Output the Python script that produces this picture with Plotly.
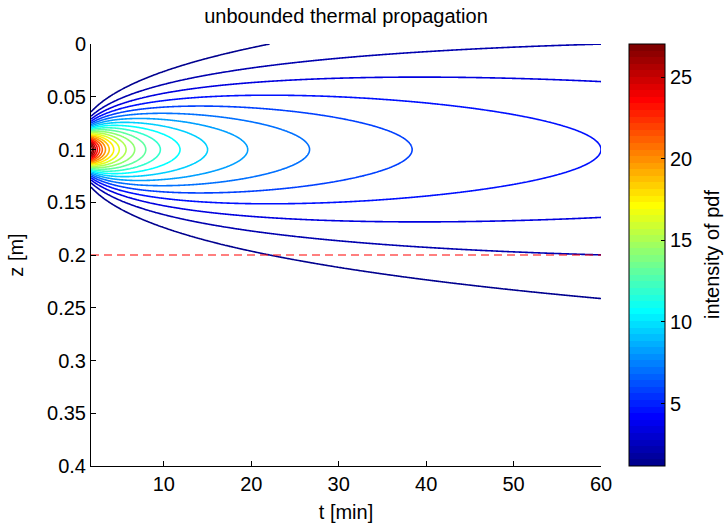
import numpy as np
import plotly.graph_objects as go

# Diffusion of an instantaneous heat pulse in an unbounded medium
D_M2_PER_S = 1.0e-6        # thermal diffusivity [m^2/s]
Z_SOURCE = 0.1             # depth of the initial pulse [m]
T_START_S = 100.0          # first time step [s]
T_END_S = 3600.0           # last time step [s]
Z_TOP = 0.0
Z_BOTTOM = 0.4
N_LEVELS = 23              # number of contour lines
Z_BOUNDARY = 0.2           # depth marked by the dashed line [m]

X_TICKS = [10, 20, 30, 40, 50, 60]
Y_TICKS = [0, 0.05, 0.1, 0.15, 0.2, 0.25, 0.3, 0.35, 0.4]
CBAR_TICKS = [5, 10, 15, 20, 25]

TITLE = "unbounded thermal propagation"
X_LABEL = "t [min]"
Y_LABEL = "z [m]"
CBAR_LABEL = "intensity of pdf"


def jet(n=64):
    """MATLAB-style jet colormap with n entries."""
    m = int(np.ceil(n / 4))
    u = np.concatenate([np.arange(1, m + 1) / m, np.ones(m - 1), np.arange(m, 0, -1) / m])
    g = int(np.ceil(m / 2)) - (1 if n % 4 == 1 else 0) + np.arange(1, len(u) + 1)
    cmap = np.zeros((n, 3))
    for col, idx in ((1, g), (0, g + m), (2, g - m)):
        for k, val in zip(idx, u):
            if 1 <= k <= n:
                cmap[k - 1, col] = val
    return cmap


def discrete_scale(cmap):
    n = len(cmap)
    scale = []
    for i, (r, g, b) in enumerate(cmap):
        c = f"rgb({int(round(r * 255))},{int(round(g * 255))},{int(round(b * 255))})"
        scale.append([i / n, c])
        scale.append([(i + 1) / n, c])
    return scale


# grid and Gaussian pdf of the spreading pulse
t_s = np.linspace(T_START_S, T_END_S, 500)
z = np.linspace(Z_TOP, Z_BOTTOM, 801)
T, Zg = np.meshgrid(t_s, z)
pdf = np.exp(-(Zg - Z_SOURCE) ** 2 / (4 * D_M2_PER_S * T)) / np.sqrt(4 * np.pi * D_M2_PER_S * T)

step = pdf.max() / (N_LEVELS + 1)
levels = step * np.arange(1, N_LEVELS + 1)
cmin, cmax = levels[0], levels[-1]

colorscale = discrete_scale(jet(64))
t_min = t_s / 60.0

FONT = "Liberation Sans, Arial, Helvetica, sans-serif"
TICK_FONT = dict(family=FONT, size=20, color="black")
LABEL_FONT = dict(family=FONT, size=20, color="black")

# plot area in pixels
W, H = 724, 527
L, R, TOP, B = 91, 123, 44, 61
PW = W - L - R

fig = go.Figure()

fig.add_trace(go.Contour(
    x=t_min, y=z, z=pdf,
    autocontour=False,
    contours=dict(start=cmin, end=cmax + step * 0.01, size=step, coloring="lines"),
    colorscale=colorscale,
    line=dict(width=1.6),
    showscale=False,
    hoverinfo="skip",
))

fig.add_trace(go.Scatter(
    x=[t_min[0], t_min[-1]], y=[Z_BOUNDARY, Z_BOUNDARY],
    mode="lines",
    line=dict(color="red", width=1.2, dash="8px,5px"),
    showlegend=False, hoverinfo="skip",
))

# colorbar carrier
cbar_x = (629 - L) / PW
fig.add_trace(go.Scatter(
    x=[t_min[0], t_min[0]], y=[Z_TOP, Z_TOP],
    mode="markers",
    marker=dict(
        size=1, opacity=0,
        color=[cmin, cmax], cmin=cmin, cmax=cmax,
        colorscale=colorscale, showscale=True,
        colorbar=dict(
            x=cbar_x, xanchor="left", xref="paper",
            y=0.5, yanchor="middle", len=1.0, lenmode="fraction",
            xpad=0, ypad=0,
            thickness=36, outlinecolor="black", outlinewidth=1,
            ticks="inside", ticklen=4, tickcolor="black",
            tickvals=CBAR_TICKS, ticklabelposition="outside",
            tickfont=TICK_FONT,
        ),
    ),
    showlegend=False, hoverinfo="skip",
))

# inner ticks on the left edge of the colorbar
shapes = []
for v in CBAR_TICKS:
    yy = (v - cmin) / (cmax - cmin)
    shapes.append(dict(type="line", xref="paper", yref="paper",
                       x0=cbar_x, x1=cbar_x + 4 / PW, y0=yy, y1=yy,
                       line=dict(color="black", width=1)))

annotations = [dict(
    text=CBAR_LABEL, textangle=-90, showarrow=False,
    xref="paper", yref="paper", x=(712 - L) / PW, y=0.5,
    xanchor="center", yanchor="middle", font=LABEL_FONT,
)]

axis_common = dict(
    showgrid=False, zeroline=False, showline=True, linecolor="black", linewidth=1,
    ticks="inside", ticklen=5, tickcolor="black", mirror=False,
    tickfont=TICK_FONT,
)

fig.update_layout(
    width=W, height=H,
    margin=dict(l=L, r=R, t=TOP, b=B, autoexpand=False),
    paper_bgcolor="white", plot_bgcolor="white",
    shapes=shapes, annotations=annotations,
    showlegend=False,
    title=dict(text=TITLE, x=(L + PW / 2) / W, xanchor="center", y=1 - 16 / H, yanchor="middle",
               font=LABEL_FONT),
    xaxis=dict(range=[t_min[0], t_min[-1]], tickvals=X_TICKS,
               title=dict(text=X_LABEL, standoff=10, font=LABEL_FONT),
               **axis_common),
    yaxis=dict(range=[Z_BOTTOM, Z_TOP], tickvals=Y_TICKS,
               title=dict(text=Y_LABEL, standoff=18, font=LABEL_FONT),
               **axis_common),
)

fig.write_html("out.html")
